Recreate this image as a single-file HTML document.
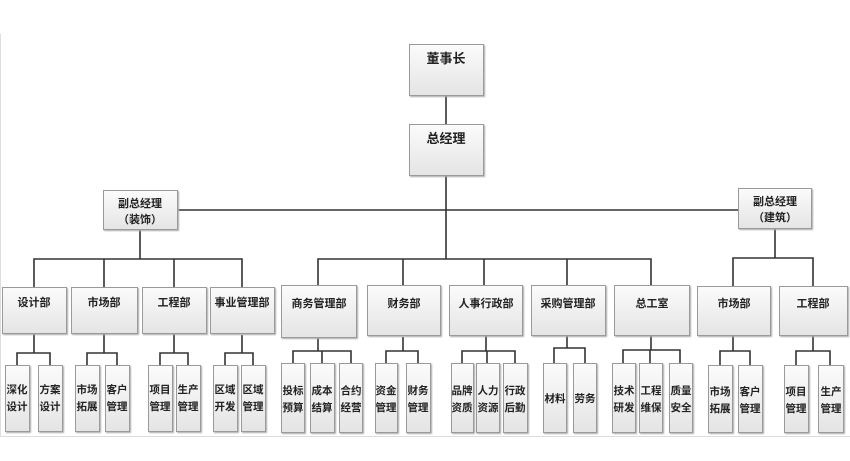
<!DOCTYPE html>
<html><head><meta charset="utf-8"><style>
body{margin:0;background:#fff;width:850px;height:461px;overflow:hidden}
svg{display:block}
text{font-family:"Liberation Sans","Noto Sans CJK SC","WenQuanYi Zen Hei",sans-serif;font-size:11px;font-weight:bold;fill:#222;text-anchor:middle}
.sm text{font-size:10.5px}
.b{fill:url(#g);stroke:#9a9a9a;stroke-width:1}
.l{stroke:#333;stroke-width:1.6;fill:none}
</style></head><body>
<svg width="850" height="461" xmlns="http://www.w3.org/2000/svg">
<defs><linearGradient id="g" x1="0" y1="0" x2="0" y2="1"><stop offset="0" stop-color="#fbfbfb"/><stop offset="1" stop-color="#e4e4e4"/></linearGradient>
<filter id="s"><feDropShadow dx="1" dy="1" stdDeviation="0.8" flood-color="#aaa"/></filter></defs>
<line x1="0.5" y1="34" x2="0.5" y2="436" stroke="#ddd"/>
<line x1="0" y1="436.5" x2="850" y2="436.5" stroke="#ddd"/>
<g class="l">
<path d="M446 95V124M446 175V259M177 210H738M318 285V259H651V285M403 259V285M484 259V285M567 259V285"/>
<path d="M140 229V259M34 287V259H242V287M104 259V287M174 259V287"/>
<path d="M775 228V258M733 286V258H813V286"/>
<path d="M34 333V353M17 365V353H50V365"/>
<path d="M104 333V353M87 365V353H117V365"/>
<path d="M174 333V353M160 365V353H188V365"/>
<path d="M242 335V353M225 365V353H253V365"/>
<path d="M318 337V351M293 363V351H351V363M322 351V363"/>
<path d="M403 337V351M386 363V351H418V363"/>
<path d="M486 335V351M462 363V351H515V363M487 351V363"/>
<path d="M567 335V348M554 363V348H585V363"/>
<path d="M651 335V350M623 363V350H680V363M650 350V363"/>
<path d="M733 335V351M720 365V351H750V365"/>
<path d="M813 335V351M796 365V351H830V365"/>
</g>
<g filter="url(#s)">
<rect class="b" x="409.5" y="44.5" width="74" height="51"/>
<rect class="b" x="409.5" y="124.5" width="74" height="51"/>
<rect class="b" x="103.5" y="190.5" width="74" height="39"/>
<rect class="b" x="738.5" y="188.5" width="73" height="40"/>
<rect class="b" x="2.5" y="287.5" width="64" height="46"/>
<rect class="b" x="71.5" y="287.5" width="66" height="46"/>
<rect class="b" x="142.5" y="287.5" width="64" height="46"/>
<rect class="b" x="210.5" y="287.5" width="64" height="46"/>
<rect class="b" x="281.5" y="285.5" width="75" height="52"/>
<rect class="b" x="367.5" y="285.5" width="73" height="50"/>
<rect class="b" x="449.5" y="285.5" width="73" height="50"/>
<rect class="b" x="531.5" y="285.5" width="74" height="50"/>
<rect class="b" x="614.5" y="285.5" width="75" height="50"/>
<rect class="b" x="697.5" y="286.5" width="73" height="49"/>
<rect class="b" x="779.5" y="286.5" width="68" height="49"/>
<rect class="b" x="5.5" y="365.5" width="24" height="66"/>
<rect class="b" x="38.5" y="365.5" width="24" height="66"/>
<rect class="b" x="75.5" y="365.5" width="24" height="66"/>
<rect class="b" x="105.5" y="365.5" width="24" height="66"/>
<rect class="b" x="148.5" y="365.5" width="24" height="66"/>
<rect class="b" x="176.5" y="365.5" width="24" height="66"/>
<rect class="b" x="213.5" y="365.5" width="24" height="66"/>
<rect class="b" x="241.5" y="365.5" width="24" height="66"/>
<rect class="b" x="281.5" y="363.5" width="23" height="69"/>
<rect class="b" x="310.5" y="363.5" width="24" height="69"/>
<rect class="b" x="339.5" y="363.5" width="23" height="69"/>
<rect class="b" x="375.5" y="363.5" width="22" height="69"/>
<rect class="b" x="406.5" y="363.5" width="24" height="69"/>
<rect class="b" x="451.5" y="363.5" width="22" height="69"/>
<rect class="b" x="476.5" y="363.5" width="23" height="69"/>
<rect class="b" x="503.5" y="363.5" width="24" height="69"/>
<rect class="b" x="543.5" y="363.5" width="23" height="69"/>
<rect class="b" x="573.5" y="363.5" width="23" height="69"/>
<rect class="b" x="612.5" y="363.5" width="23" height="69"/>
<rect class="b" x="639.5" y="363.5" width="23" height="69"/>
<rect class="b" x="669.5" y="363.5" width="23" height="69"/>
<rect class="b" x="708.5" y="365.5" width="24" height="67"/>
<rect class="b" x="738.5" y="365.5" width="24" height="67"/>
<rect class="b" x="784.5" y="365.5" width="24" height="67"/>
<rect class="b" x="818.5" y="365.5" width="25" height="67"/>
</g>
<text x="446" y="63" style="font-size:13px">董事长</text>
<text x="446" y="143" style="font-size:13px">总经理</text>
<text x="140" y="207">副总经理</text><text x="140" y="223">（装饰）</text>
<text x="775" y="205">副总经理</text><text x="775" y="221">（建筑）</text>
<text x="34" y="306">设计部</text><text x="104" y="306">市场部</text><text x="174" y="306">工程部</text><text x="242" y="306">事业管理部</text>
<text x="319" y="307">商务管理部</text><text x="404" y="307">财务部</text><text x="486" y="307">人事行政部</text><text x="568" y="307">采购管理部</text><text x="652" y="307">总工室</text>
<text x="734" y="307">市场部</text><text x="813" y="307">工程部</text>
<g class="sm">
<text x="17" y="393">深化</text><text x="17" y="410">设计</text>
<text x="50" y="393">方案</text><text x="50" y="410">设计</text>
<text x="87" y="393">市场</text><text x="87" y="410">拓展</text>
<text x="117" y="393">客户</text><text x="117" y="410">管理</text>
<text x="160" y="393">项目</text><text x="160" y="410">管理</text>
<text x="188" y="393">生产</text><text x="188" y="410">管理</text>
<text x="225" y="393">区域</text><text x="225" y="410">开发</text>
<text x="253" y="393">区域</text><text x="253" y="410">管理</text>
<text x="293" y="394">投标</text><text x="293" y="411">预算</text>
<text x="322" y="394">成本</text><text x="322" y="411">结算</text>
<text x="351" y="394">合约</text><text x="351" y="411">经营</text>
<text x="386" y="394">资金</text><text x="386" y="411">管理</text>
<text x="418" y="394">财务</text><text x="418" y="411">管理</text>
<text x="462" y="394">品牌</text><text x="462" y="411">资质</text>
<text x="488" y="394">人力</text><text x="488" y="411">资源</text>
<text x="515" y="394">行政</text><text x="515" y="411">后勤</text>
<text x="555" y="402">材料</text>
<text x="585" y="402">劳务</text>
<text x="624" y="394">技术</text><text x="624" y="411">研发</text>
<text x="651" y="394">工程</text><text x="651" y="411">维保</text>
<text x="681" y="394">质量</text><text x="681" y="411">安全</text>
<text x="720" y="395">市场</text><text x="720" y="412">拓展</text>
<text x="750" y="395">客户</text><text x="750" y="412">管理</text>
<text x="796" y="395">项目</text><text x="796" y="412">管理</text>
<text x="831" y="395">生产</text><text x="831" y="412">管理</text>
</g>
</svg>
</body></html>
